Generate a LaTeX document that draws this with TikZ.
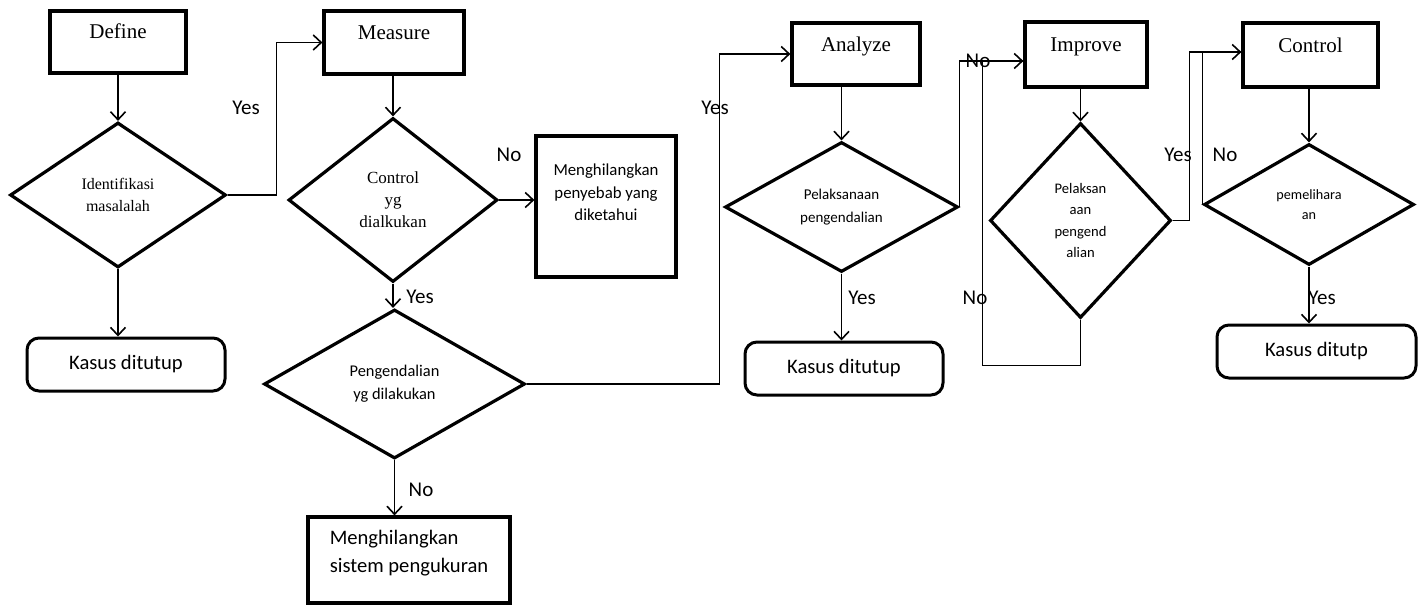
\documentclass[tikz,border=0pt]{standalone}
\usepackage{fontspec}
\setmainfont{Liberation Serif}
\newfontfamily\calibri{Carlito}
\usetikzlibrary{shapes.geometric,arrows.meta}

\begin{document}
\begin{tikzpicture}[
    x=0.5pt, y=-0.5pt,
    >={Straight Barb[length=4pt,width=7.5pt]},
    phase/.style={draw, line width=1.6pt, inner sep=0pt,
      font=\fontsize{10.5}{12}\selectfont, text height=7pt, text depth=10pt},
    decision/.style={diamond, draw, line width=1.6pt, inner sep=0pt, align=center},
    closed/.style={draw, rounded corners=6pt, line width=1.5pt,
      minimum height=26.5pt, font=\calibri\fontsize{10.3}{12}\selectfont},
    action/.style={draw, line width=1.6pt, inner sep=0pt},
    flow/.style={->, line width=0.8pt},
    link/.style={line width=0.8pt},
    answer/.style={font=\calibri\fontsize{10.5}{12}\selectfont, inner sep=0pt}
  ]
  \useasboundingbox (0,0) rectangle (1419,605);

  % the five phases
  \node[phase, minimum width=68pt, minimum height=31pt] (define) at (118,42) {Define};
  \node[phase, minimum width=70pt, minimum height=31.5pt] (measure) at (394,42.5) {Measure};
  \node[phase, minimum width=64pt, minimum height=31pt] (analyze) at (856,54) {Analyze};
  \node[phase, minimum width=61pt, minimum height=32.5pt] (improve) at (1086,54.5) {Improve};
  \node[phase, minimum width=67.5pt, minimum height=32pt] (control) at (1310.5,55) {Control};

  % decisions
  \node[decision, minimum width=108pt, minimum height=72.5pt,
    font=\fontsize{8}{11}\selectfont] (d1) at (118,195) {Identifikasi\\masalalah};
  \node[decision, minimum width=104.5pt, minimum height=82pt,
    font=\fontsize{8.5}{11}\selectfont] (d2) at (393,200) {Control\\yg\\dialkukan};
  \node[decision, minimum width=130.5pt, minimum height=74.5pt,
    font=\calibri\fontsize{8.2}{11.5}\selectfont] (d3) at (394.5,384) {Pengendalian\\yg dilakukan};
  \node[decision, minimum width=116.5pt, minimum height=65pt,
    font=\calibri\fontsize{7.5}{11.5}\selectfont] (d4) at (841.5,207) {Pelaksanaan\\pengendalian};
  \node[decision, minimum width=90.5pt, minimum height=97.5pt,
    font=\calibri\fontsize{7.3}{10.7}\selectfont] (d5) at (1080.5,220.5) {Pelaksan\\aan\\pengend\\alian};
  \node[decision, minimum width=105pt, minimum height=60.5pt,
    font=\calibri\fontsize{7.1}{10}\selectfont] (d6) at (1309,204.5) {pemelihara\\an};

  % outcomes
  \node[closed, minimum width=99pt] (kasus1) at (126,364.5) {Kasus ditutup};
  \node[closed, minimum width=99pt] (kasus2) at (844,368.5) {Kasus ditutup};
  \node[closed, minimum width=99.5pt] (kasus3) at (1316.5,351.5) {Kasus ditutp};
  \node[action, minimum width=70pt, minimum height=70.5pt, align=center,
    font=\calibri\fontsize{8.4}{11.2}\selectfont, text depth=14pt]
    (remove1) at (606,206.5) {Menghilangkan\\penyebab yang\\diketahui};
  \node[action, minimum width=101pt, minimum height=43pt, align=left,
    font=\calibri\fontsize{10.3}{14}\selectfont, text depth=9pt]
    (remove2) at (409,560) {Menghilangkan\\sistem pengukuran};

  \coordinate (intoimprove) at ([yshift=-3.25pt]improve.west);
  \coordinate (intocontrol) at ([yshift=1.5pt]control.west);

  % connectors
  \draw[flow] (define) -- (d1);
  \draw[flow] (d1.south) -- (d1.south |- kasus1.north);
  \draw[flow] (d1.east) -- ++(49,0) |- (measure.west);
  \draw[flow] (measure.south -| d2.north) -- (d2.north);
  \draw[flow] (d2.east) -- (d2.east -| remove1.west);
  \draw[flow] (d2.south) -- (d2.south |- d3.north);
  \draw[flow] (d3.south) -- (d3.south |- remove2.north);
  \draw[flow] (d3.east) -- ++(193,0) |- (analyze.west);
  \draw[flow] (analyze.south -| d4.north) -- (d4.north);
  \draw[flow] (d4.south) -- (d4.south |- kasus2.north);
  \draw[flow] (d4.east) |- (intoimprove);
  \draw[flow] (improve.south -| d5.north) -- (d5.north);
  \draw[link] (d5.south) |- ++(-98,46) |- (intoimprove);
  \draw[flow] (d5.east) -- ++(17,0) |- (intocontrol);
  \draw[link] (d6.west) |- (intocontrol);
  \draw[flow] (control.south -| d6.north) -- (d6.north);
  \draw[flow] (d6.south) -- (d6.south |- kasus3.north);

  % answers
  \node[answer] (yes1) at (246,108) {Yes};
  \node[answer] (no1) at (509,155) {No};
  \node[answer] (yes2) at (420,297) {Yes};
  \node[answer] (no2) at (421,490) {No};
  \node[answer] (yes3) at (715,108) {Yes};
  \node[answer] (no3) at (978,61) {No};
  \node[answer] (yes4) at (862,298) {Yes};
  \node[answer] (no4) at (975,298) {No};
  \node[answer] (yes5) at (1178,155) {Yes};
  \node[answer] (no5) at (1225,155) {No};
  \node[answer] (yes6) at (1322,298) {Yes};
\end{tikzpicture}
\end{document}
